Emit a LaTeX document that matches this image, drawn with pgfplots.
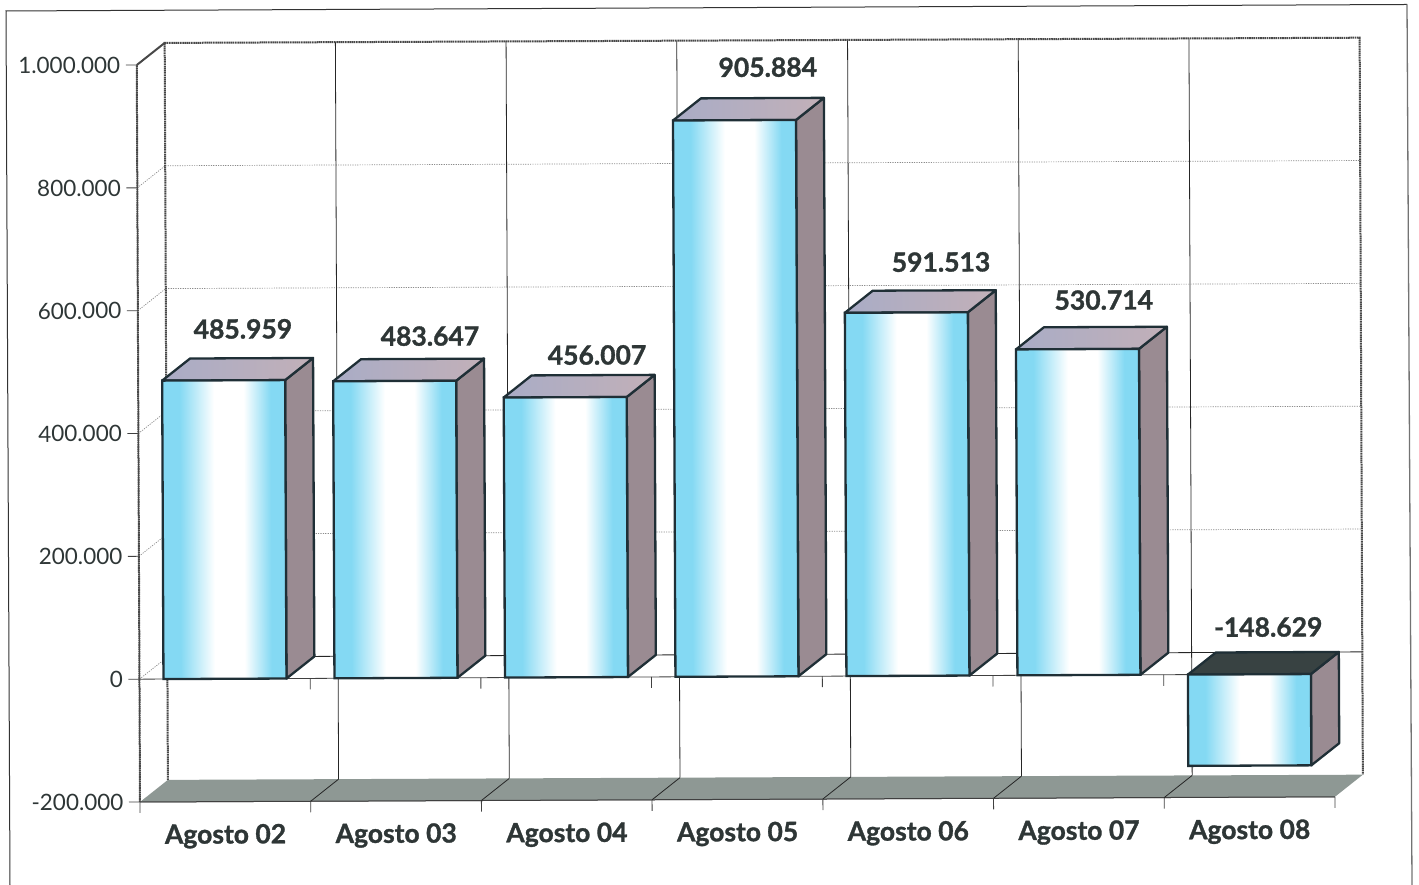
\documentclass[border=0pt]{standalone}
\usepackage{pgfplots}
\pgfplotsset{compat=1.18}
\usepackage{fontspec}
\setmainfont{Lato}[BoldFeatures={FakeBold=1.2}]
\definecolor{edge}{HTML}{1F2F36}
\definecolor{txt}{HTML}{2E3636}
\definecolor{cy}{HTML}{84D9F3}
\definecolor{sidec}{HTML}{9A8B92}
\definecolor{floorc}{HTML}{8E9894}
\definecolor{wallc}{HTML}{484848}
\definecolor{topl}{HTML}{A9ACC6}
\definecolor{topr}{HTML}{C2B0B8}
\definecolor{darktop}{HTML}{384242}
\pgfdeclarehorizontalshading{barshade}{100bp}{
 color(0bp)=(cy); color(25bp)=(cy); color(32bp)=(cy); color(46bp)=(white); color(58bp)=(white); color(69bp)=(cy); color(75bp)=(cy); color(100bp)=(cy)}
\pgfplotsset{
 bartop/.style={draw=edge,line width=2.3pt,line join=round,left color=topl,right color=topr},
 barside/.style={draw=edge,line width=2.3pt,line join=round,fill=sidec},
 barfront/.style={ybar,bar width=123pt,bar shift=0pt,draw=edge,line width=2.3pt,shade,shading=barshade},
 wall/.style={draw=wallc,line width=2pt,dash pattern=on 1.6pt off 0.6pt},
 gridv/.style={draw=black!85,line width=0.8pt},
 gridh/.style={draw=black!45,line width=0.7pt,dash pattern=on 1.2pt off 1.2pt},
}
\begin{document}
\begin{tikzpicture}[x=1pt,y=1pt]
\useasboundingbox (0,0) rectangle (1419,885);
\draw[black!80,line width=1pt] (10,0) -- (6,874) -- (1407,880.5);
\draw[black!55,line width=1.3pt] (1407,880.5) -- (1412,0);
\begin{scope}[transform canvas={rotate around={0.25:(140pt,83pt)}}]
\begin{axis}[
 at={(140pt,83pt)},anchor=south west,
 scale only axis,width=1195pt,height=737pt,
 xmin=0,xmax=1195,ymin=-200000,ymax=1000000,
 clip=false,
 scaled y ticks=false,
 axis x line=bottom,axis y line=left,
 axis line style={-,draw=wallc,line width=1pt},
 tick align=outside,
 major tick length=11pt,
 tick style={draw=black!75,line width=0.8pt},
 ytick={-200000,0,200000,400000,600000,800000,1000000},
 yticklabels={-200.000,0,200.000,400.000,600.000,800.000,1.000.000},
 xtick={0,170.7,341.4,512.1,682.9,853.6,1024.3,1195},
 xticklabels={},
 extra x ticks={85.4,256.1,426.8,597.5,768.2,938.9,1109.6},
 extra x tick labels={Agosto 02,Agosto 03,Agosto 04,Agosto 05,Agosto 06,Agosto 07,Agosto 08},
 extra x tick style={major tick length=0pt,
   xticklabel style={font=\bfseries\fontsize{26.5}{26.5}\selectfont,text=txt,yshift=-19pt}},
 yticklabel style={font=\fontsize{22.5}{22.5}\selectfont,text=txt,xshift=-2pt},
]
% back wall grid
\addplot[gridh] coordinates {(28,835800)(1223,835800)};
\addplot[gridh] coordinates {(28,635800)(1223,635800)};
\addplot[gridh] coordinates {(28,435800)(1223,435800)};
\addplot[gridh] coordinates {(28,235800)(1223,235800)};
\addplot[gridv] coordinates {(28,35800)(1223,35800)};
\addplot[gridh] coordinates {(0,800000)(28,835800)};
\addplot[gridh] coordinates {(0,600000)(28,635800)};
\addplot[gridh] coordinates {(0,400000)(28,435800)};
\addplot[gridh] coordinates {(0,200000)(28,235800)};
\addplot[gridh] coordinates {(0,0)(28,35800)};
\addplot[gridv] coordinates {(198.7,-164200)(198.7,1035800)};
\addplot[gridv] coordinates {(369.4,-164200)(369.4,1035800)};
\addplot[gridv] coordinates {(540.1,-164200)(540.1,1035800)};
\addplot[gridv] coordinates {(710.9,-164200)(710.9,1035800)};
\addplot[gridv] coordinates {(881.6,-164200)(881.6,1035800)};
\addplot[gridv] coordinates {(1052.3,-164200)(1052.3,1035800)};
\addplot[wall] coordinates {(28,-164200)(28,1035800)(1223,1035800)(1223,-164200)};
\addplot[draw=wallc,line width=2pt] coordinates {(0,1000000)(28,1035800)};
\addplot[wall] coordinates {(0,-200000)(0,1000000)};
% floor
\addplot[fill=floorc,draw=none] coordinates {(0,-200000)(28,-164200)(1223,-164200)(1195,-200000)} --cycle;
\addplot[draw=black!75,line width=1pt] coordinates {(0,-200000)(1195,-200000)};
\addplot[gridv] coordinates {(170.7,-200000)(198.7,-164200)};
\addplot[gridv] coordinates {(341.4,-200000)(369.4,-164200)};
\addplot[gridv] coordinates {(512.1,-200000)(540.1,-164200)};
\addplot[gridv] coordinates {(682.9,-200000)(710.9,-164200)};
\addplot[gridv] coordinates {(853.6,-200000)(881.6,-164200)};
\addplot[gridv] coordinates {(1024.3,-200000)(1052.3,-164200)};
% zero line with its ticks
\addplot[draw=black!75,line width=0.8pt] coordinates {(0,0)(1195,0)};
\addplot[draw=black!75,line width=0.8pt] coordinates {(170.7,0)(170.7,-18000)};
\addplot[draw=black!75,line width=0.8pt] coordinates {(341.4,0)(341.4,-18000)};
\addplot[draw=black!75,line width=0.8pt] coordinates {(512.1,0)(512.1,-18000)};
\addplot[draw=black!75,line width=0.8pt] coordinates {(682.9,0)(682.9,-18000)};
\addplot[draw=black!75,line width=0.8pt] coordinates {(853.6,0)(853.6,-18000)};
\addplot[draw=black!75,line width=0.8pt] coordinates {(1024.3,0)(1024.3,-18000)};
% side faces
\addplot[barside] coordinates {(147,0)(175,35800)(175,521759)(147,485959)} --cycle;
\addplot[barside] coordinates {(318,0)(346,35800)(346,519447)(318,483647)} --cycle;
\addplot[barside] coordinates {(488.5,0)(516.5,35800)(516.5,491807)(488.5,456007)} --cycle;
\addplot[barside] coordinates {(659,0)(687,35800)(687,941684)(659,905884)} --cycle;
\addplot[barside] coordinates {(830,0)(858,35800)(858,627313)(830,591513)} --cycle;
\addplot[barside] coordinates {(1001,0)(1029,35800)(1029,566514)(1001,530714)} --cycle;
\addplot[barside] coordinates {(1171.5,0)(1199.5,35800)(1199.5,-112829)(1171.5,-148629)} --cycle;
% top faces
\addplot[bartop] coordinates {(24,485959)(52,521759)(175,521759)(147,485959)} --cycle;
\addplot[bartop] coordinates {(195,483647)(223,519447)(346,519447)(318,483647)} --cycle;
\addplot[bartop] coordinates {(365.5,456007)(393.5,491807)(516.5,491807)(488.5,456007)} --cycle;
\addplot[bartop] coordinates {(536,905884)(564,941684)(687,941684)(659,905884)} --cycle;
\addplot[bartop] coordinates {(707,591513)(735,627313)(858,627313)(830,591513)} --cycle;
\addplot[bartop] coordinates {(878,530714)(906,566514)(1029,566514)(1001,530714)} --cycle;
\addplot[draw=edge,line width=2.3pt,line join=round,fill=darktop] coordinates {(1048.5,0)(1076.5,35800)(1199.5,35800)(1171.5,0)} --cycle;
% front faces
\addplot[barfront] coordinates {(85.5,485959)};
\addplot[barfront] coordinates {(256.5,483647)};
\addplot[barfront] coordinates {(427,456007)};
\addplot[barfront] coordinates {(597.5,905884)};
\addplot[barfront] coordinates {(768.5,591513)};
\addplot[barfront] coordinates {(939.5,530714)};
\addplot[barfront] coordinates {(1110,-148629)};
% value labels
\tikzset{vl/.style={font=\bfseries\fontsize{26.5}{26.5}\selectfont,text=txt}}
\node[vl] at (axis cs:105,569500) {485.959};
\node[vl] at (axis cs:292,556600) {483.647};
\node[vl] at (axis cs:459,524600) {456.007};
\node[vl] at (axis cs:631,992000) {905.884};
\node[vl] at (axis cs:803.4,673500) {591.513};
\node[vl] at (axis cs:966,610500) {530.714};
\node[vl] at (axis cs:1129,76800) {-148.629};
\end{axis}
\end{scope}
\end{tikzpicture}
\end{document}
